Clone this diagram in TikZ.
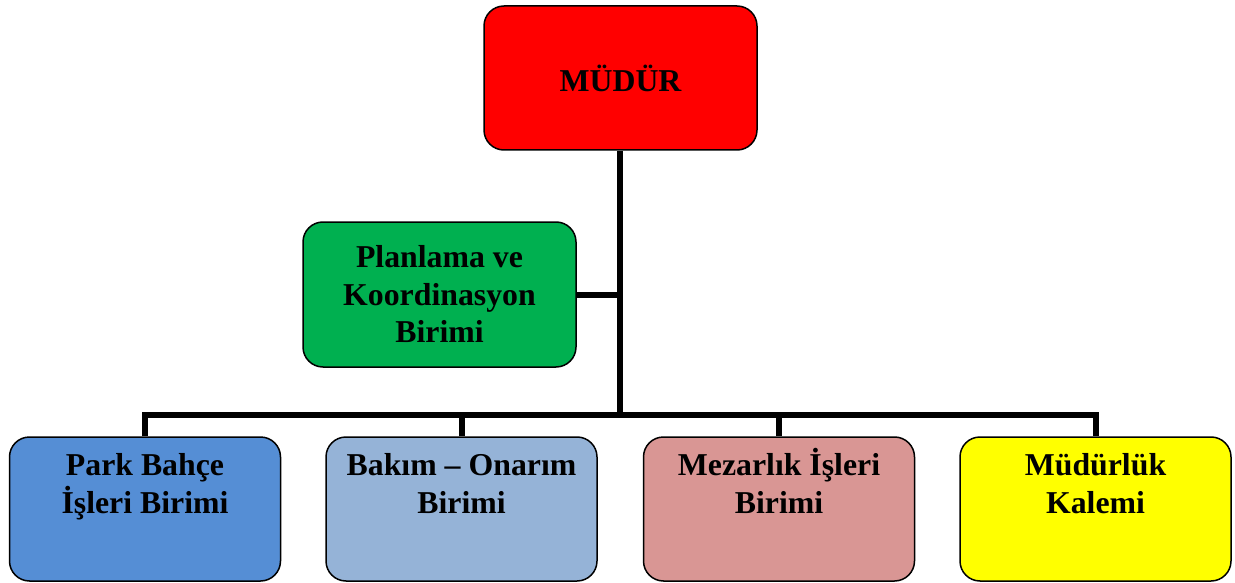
\documentclass[tikz,border=0pt]{standalone}
\usepackage{fontspec}
\setmainfont{Liberation Serif}
\usepackage{tikz}
\usetikzlibrary{positioning}
\definecolor{mudurred}{HTML}{FF0000}
\definecolor{plangreen}{HTML}{00B050}
\definecolor{parkblue}{HTML}{558ED5}
\definecolor{bakimblue}{HTML}{95B3D7}
\definecolor{mezarpink}{HTML}{D99694}
\definecolor{kalemyellow}{HTML}{FFFF00}
\tikzset{
x=1pt, y=-1pt, % pixel like units, y grows downwards
box/.style={draw=black, line width=1.5pt, rounded corners=20pt, align=center,
  font=\fontsize{31.8}{37.5}\selectfont\bfseries}, % every unit box
unit/.style={box, minimum width=271pt, minimum height=144pt, inner sep=0pt,
  text height=76pt, text depth=68pt}, % bottom row, text sits at the top
conn/.style={line width=6pt, black}, % the thick connectors
}

\begin{document}
\begin{tikzpicture}
    \useasboundingbox (0,0) rectangle (1235,583);

    \node[box, fill=mudurred, minimum width=273pt, minimum height=144pt] (mudur) at (620.5,78) {MÜDÜR};
    \node[box, fill=plangreen, minimum width=273pt, minimum height=145pt] (plan) at (439.5,294.5) {Planlama ve\\Koordinasyon\\Birimi};

    \node[unit, fill=parkblue] (park) at (145,509) {Park Bahçe\\İşleri Birimi};
    \node[unit, fill=bakimblue] (bakim) at (461.5,509) {Bakım – Onarım\\Birimi};
    \node[unit, fill=mezarpink] (mezar) at (779,509) {Mezarlık İşleri\\Birimi};
    \node[unit, fill=kalemyellow] (kalem) at (1095.5,509) {Müdürlük\\Kalemi};

    \coordinate (bus) at (620,415);

    \draw[conn] (mudur.south -| bus) -- (bus);
    \draw[conn] (plan.east) -- (plan.east -| bus);
    \draw[conn] (park.north) |- (bus) -| (kalem.north);
    \draw[conn] (bakim.north) -- (bakim.north |- bus);
    \draw[conn] (mezar.north) -- (mezar.north |- bus);
\end{tikzpicture}
\end{document}
